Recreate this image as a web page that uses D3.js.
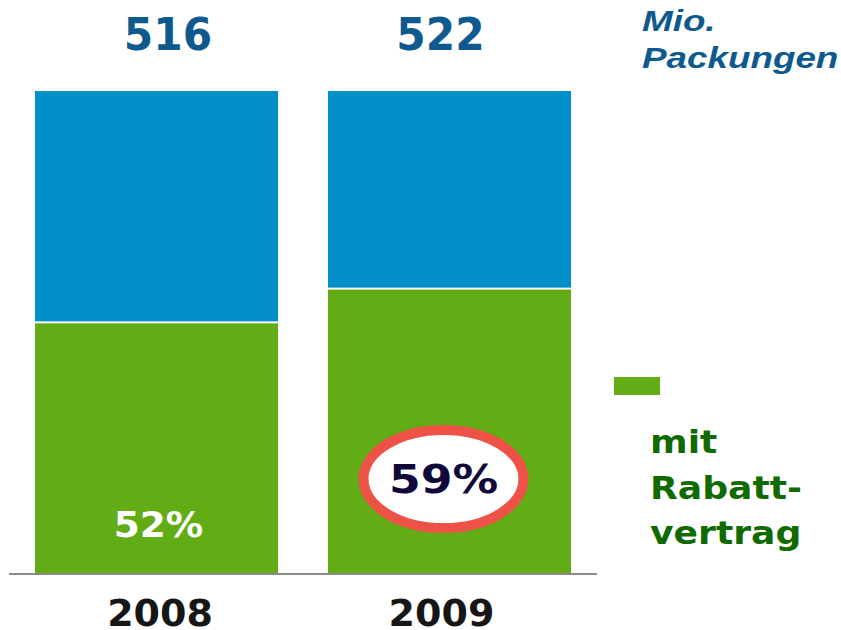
<!DOCTYPE html>
<html><head><meta charset="utf-8">
<script src="https://cdn.jsdelivr.net/npm/d3@7"></script>
<style>body{margin:0;background:#fff}svg{display:block}</style>
</head><body>
<script>
const years = ["2008", "2009"];
const totals = [516, 522];
const sharePct = [52, 59];          // mit Rabattvertrag, %
const restPct = [48, 41];
const unitLabel = ["Mio.", "Packungen"];
const legendLines = ["mit", "Rabatt-", "vertrag"];

const W = 841, H = 630;
const svg = d3.select("body").append("svg").attr("width", W).attr("height", H);

const xb = d3.scaleBand().domain(years).range([35, 571]).paddingInner(0.1706).paddingOuter(0);
const y = d3.scaleLinear().domain([0, 100]).range([573, 91]);
const mid = yr => xb(yr) + xb.bandwidth() / 2;

const GREEN = "#62ac16", BLUE = "#008fc8";
const data = years.map((yr, i) => ({yr, g: sharePct[i], b: restPct[i], t: totals[i]}));

// blue (top) segments
svg.selectAll("rect.b").data(data).enter().append("rect")
  .attr("x", d => xb(d.yr)).attr("width", xb.bandwidth())
  .attr("y", d => y(d.g + d.b)).attr("height", d => y(d.g) - y(d.g + d.b) - 1)
  .attr("fill", BLUE);
// green segments
svg.selectAll("rect.g").data(data).enter().append("rect")
  .attr("x", d => xb(d.yr)).attr("width", xb.bandwidth())
  .attr("y", d => y(d.g) + 1).attr("height", d => y(0) - y(d.g) - 1)
  .attr("fill", GREEN);

// axis baseline
svg.append("line").attr("x1", 9).attr("x2", 597).attr("y1", 574).attr("y2", 574)
  .attr("stroke", "#8a8a8a").attr("stroke-width", 2);

const font = "'DejaVu Sans', Verdana, sans-serif";
function stretched(g, cx, cy, sx, size, fill, txt) {
  return g.append("text").attr("transform", `translate(${cx},${cy}) scale(${sx},1)`)
    .attr("text-anchor", "middle").attr("font-family", font).attr("font-weight", "bold")
    .attr("font-size", size).attr("fill", fill).text(txt);
}

// totals on top
const totOff = [11.5, -9];
data.forEach((d, i) => stretched(svg, mid(d.yr) + totOff[i], 50, 0.94, 45, "#0e5a8e", d.t));

// year labels
const yrOff = [3.5, -8];
data.forEach((d, i) => stretched(svg, mid(d.yr) + yrOff[i], 626, 1.0, 38, "#161616", d.yr));

// 2008 percentage
stretched(svg, mid("2008") + 2, 537, 1.07, 35, "#ffffff", sharePct[0] + "%");

// 2009 highlighted
const cx = mid("2009") - 6;
svg.append("ellipse").attr("cx", cx).attr("cy", 479).attr("rx", 80).attr("ry", 49)
  .attr("fill", "#ffffff").attr("stroke", "#ee5246").attr("stroke-width", 10);
stretched(svg, cx, 493, 1.17, 39, "#10083a", sharePct[1] + "%");

// unit label
unitLabel.forEach((d, i) => {
  svg.append("text").attr("transform", `translate(642,${31 + i * 37}) scale(1.27,1)`)
    .attr("font-family", "'Liberation Sans', Arial, sans-serif").attr("font-style", "italic")
    .attr("font-weight", "bold").attr("font-size", 29).attr("fill", "#0e5a8e").text(d);
});

// legend
svg.append("rect").attr("x", 614).attr("y", 377).attr("width", 46).attr("height", 18).attr("fill", GREEN);
legendLines.forEach((d, i) => {
  svg.append("text").attr("transform", `translate(650,${453 + i * 45.5}) scale(1.13,1)`)
    .attr("font-family", font).attr("font-weight", "bold")
    .attr("font-size", 32).attr("fill", "#0f6a00").text(d);
});
</script>
</body></html>
